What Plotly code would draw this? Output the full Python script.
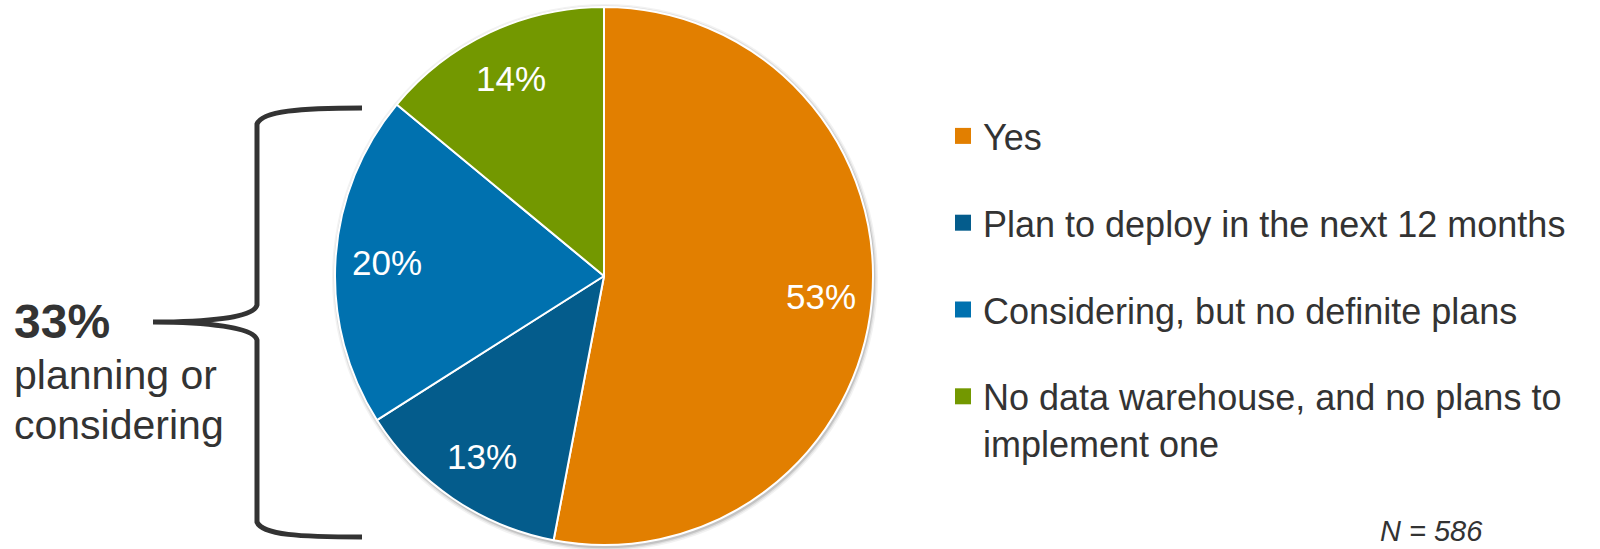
import math
import plotly.graph_objects as go

# Survey answers and their shares (%)
categories = [
    "Yes",
    "Plan to deploy in the next 12 months",
    "Considering, but no definite plans",
    "No data warehouse, and no plans to implement one",
]
legend_labels = [
    "Yes",
    "Plan to deploy in the next 12 months",
    "Considering, but no definite plans",
    "No data warehouse, and no plans to<br>implement one",
]
shares = [53, 13, 20, 14]
colors = ["#E27F00", "#045C8C", "#0071AF", "#739800"]
callout_value = "33%"
callout_text = ["planning or", "considering"]
sample_note = "N = 586"

W, H = 1600, 549
FONT = "Liberation Sans, Arial, sans-serif"
TEXT = "#333333"


def px(x, y):
    """Pixel position -> paper coordinates (margins are zero)."""
    return x / W, 1 - y / H


# pie placement in pixels
cx, cy, r = 604, 276, 269

fig = go.Figure()

fig.add_trace(go.Pie(
    labels=categories,
    values=shares,
    sort=False,
    direction="clockwise",
    rotation=0,
    marker=dict(colors=colors, line=dict(color="white", width=2)),
    textinfo="none",
    domain=dict(x=[(cx - r) / W, (cx + r) / W], y=[1 - (cy + r) / H, 1 - (cy - r) / H]),
    showlegend=False,
    hoverinfo="label+percent",
))

# legend entries, one group each so the rows can be spaced apart
for i, (lab, col) in enumerate(zip(legend_labels, colors)):
    fig.add_trace(go.Scatter(
        x=[None], y=[None], mode="markers", name=lab,
        legendgroup=f"g{i}",
        marker=dict(symbol="square", size=16, color=col),
    ))

annotations = []

# percentage labels placed along each slice's mid-angle (clockwise from 12 o'clock)
total = sum(shares)
cum = 0
for v in shares:
    mid = (cum + v / 2) / total * 2 * math.pi
    cum += v
    lx = cx + 0.81 * r * math.sin(mid)
    ly = cy - 0.81 * r * math.cos(mid)
    x, y = px(lx, ly)
    annotations.append(dict(text=f"{v}%", x=x, y=y, xref="paper", yref="paper",
                            xanchor="center", yanchor="middle", showarrow=False,
                            font=dict(family=FONT, size=35, color="white")))

shapes = []
# soft shadow under the pie
for d, a in [(4, 0.05), (2.5, 0.08), (1.2, 0.12)]:
    x0, y1 = px(cx - r - d + 1, cy - r - d + 1)
    x1, y0 = px(cx + r + d + 1, cy + r + d + 2)
    shapes.append(dict(type="circle", xref="paper", yref="paper", layer="below",
                       x0=x0, x1=x1, y0=y0, y1=y1,
                       fillcolor=f"rgba(0,0,0,{a})", line=dict(width=0)))

# curly brace spanning the planning/considering slices
brace_pts = [
    ("M", [(362, 108)]),
    ("C", [(300, 108), (262, 111), (257, 124)]),
    ("L", [(257, 305)]),
    ("C", [(254, 318), (205, 322), (153, 322)]),
    ("M", [(153, 322)]),
    ("C", [(205, 322), (254, 327), (257, 340)]),
    ("L", [(257, 522)]),
    ("C", [(262, 535), (300, 537), (362, 537)]),
]
path = ""
for cmd, pts in brace_pts:
    path += cmd + " " + " ".join(f"{px(x, y)[0]:.5f},{px(x, y)[1]:.5f}" for x, y in pts) + " "
shapes.append(dict(type="path", xref="paper", yref="paper", path=path.strip(),
                   line=dict(color="#333333", width=5)))

annotations += [
    dict(text=f"<b>{callout_value}</b>", x=px(12, 0)[0], y=px(0, 321)[1],
         xref="paper", yref="paper",
         xanchor="left", yanchor="middle", showarrow=False,
         font=dict(family=FONT, size=48, color=TEXT)),
    dict(text=callout_text[0], x=px(12, 0)[0], y=px(0, 375)[1],
         xref="paper", yref="paper",
         xanchor="left", yanchor="middle", showarrow=False,
         font=dict(family=FONT, size=41, color=TEXT)),
    dict(text=callout_text[1], x=px(12, 0)[0], y=px(0, 425)[1],
         xref="paper", yref="paper",
         xanchor="left", yanchor="middle", showarrow=False,
         font=dict(family=FONT, size=41, color=TEXT)),
    dict(text=f"<i>{sample_note}</i>", x=px(1378, 0)[0], y=0,
         xref="paper", yref="paper",
         xanchor="left", yanchor="bottom", showarrow=False,
         font=dict(family=FONT, size=29, color=TEXT)),
]

fig.update_layout(
    width=W, height=H,
    margin=dict(l=0, r=0, t=0, b=0),
    paper_bgcolor="white", plot_bgcolor="white",
    xaxis=dict(visible=False), yaxis=dict(visible=False),
    shapes=shapes, annotations=annotations,
    legend=dict(x=943 / W, y=1 - 106 / H, xanchor="left", yanchor="top",
                font=dict(family=FONT, size=36, color=TEXT),
                tracegroupgap=37, valign="top", bgcolor="rgba(0,0,0,0)"),
)

fig.write_html("out.html")
